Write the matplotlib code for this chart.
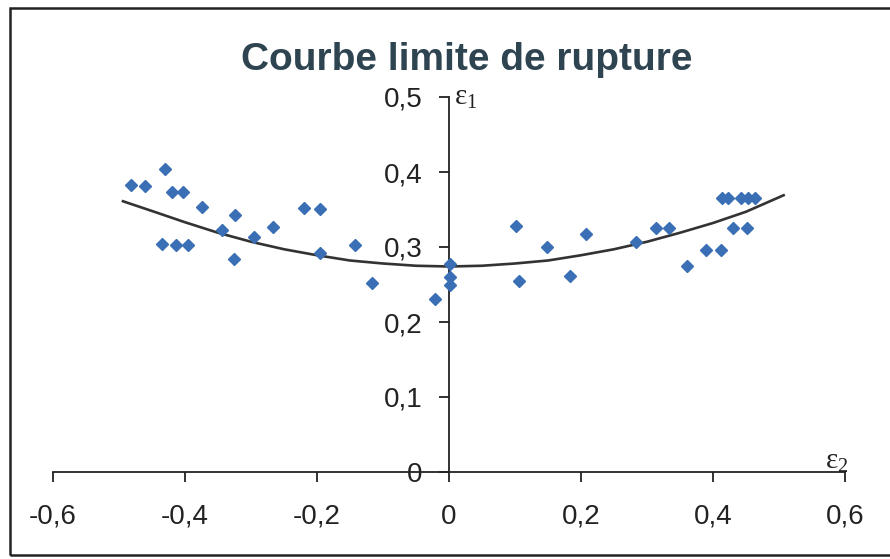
import numpy as np
import matplotlib
matplotlib.use("Agg")
import matplotlib.pyplot as plt
from matplotlib.patches import Rectangle

# measured limit strains (eps2, eps1)
eps2 = [-0.482, -0.461, -0.430, -0.419, -0.403, -0.374, -0.344, -0.324, -0.295,
        -0.267, -0.219, -0.195, -0.435, -0.414, -0.395, -0.326, -0.196, -0.142,
        -0.116, -0.021, 0.002, 0.002, 0.002,
        0.102, 0.106, 0.149, 0.183, 0.207, 0.283, 0.313, 0.334, 0.361, 0.390,
        0.412, 0.431, 0.452, 0.413, 0.423, 0.443, 0.453, 0.464]
eps1 = [0.383, 0.382, 0.404, 0.374, 0.374, 0.354, 0.323, 0.343, 0.313,
        0.327, 0.352, 0.351, 0.304, 0.303, 0.303, 0.284, 0.292, 0.303,
        0.252, 0.231, 0.277, 0.260, 0.249,
        0.328, 0.255, 0.300, 0.261, 0.318, 0.307, 0.326, 0.326, 0.275, 0.296,
        0.296, 0.325, 0.325, 0.366, 0.366, 0.366, 0.366, 0.366]

# forming limit curve (trend line)
curve_x = [-0.494, -0.45, -0.4, -0.35, -0.3, -0.25, -0.2, -0.15, -0.1, -0.05, 0.0,
           0.05, 0.1, 0.15, 0.2, 0.25, 0.3, 0.35, 0.4, 0.45, 0.507]
curve_y = [0.361, 0.348, 0.333, 0.319, 0.307, 0.297, 0.289, 0.282, 0.278, 0.275, 0.274,
           0.275, 0.278, 0.282, 0.289, 0.297, 0.307, 0.319, 0.332, 0.347, 0.369]

xticks = [-0.6, -0.4, -0.2, 0, 0.2, 0.4, 0.6]
yticks = [0, 0.1, 0.2, 0.3, 0.4, 0.5]


def fr(v):
    s = ("%.1f" % v).replace(".", ",")
    return "0" if s in ("0,0", "-0,0") else s


plt.rcParams['font.family'] = ['Liberation Sans', 'DejaVu Sans']
plt.rcParams['mathtext.fontset'] = 'custom'
plt.rcParams['mathtext.rm'] = 'Liberation Serif'

fig = plt.figure(figsize=(8.9, 5.59), dpi=100)
ax = fig.add_axes([53 / 890, 1 - 472 / 559, 792 / 890, 375 / 559])
ax.set_xlim(-0.6, 0.6)
ax.set_ylim(0, 0.5)
ax.patch.set_alpha(0)

ax.plot(curve_x, curve_y, color="#333333", lw=1.9, zorder=2)
ax.plot(eps2, eps1, ls="none", marker="D", ms=6.2, color="#3A6EB5",
        mec="#3A6EB5", zorder=3)

for s in ("top", "right"):
    ax.spines[s].set_visible(False)
ax.spines["left"].set_position(("data", 0))
ax.spines["bottom"].set_position(("data", 0))
for s in ("left", "bottom"):
    ax.spines[s].set_linewidth(1.3)
    ax.spines[s].set_color("#222222")

ax.set_xticks(xticks)
ax.set_xticklabels([fr(v) for v in xticks])
ax.set_yticks(yticks)
ax.set_yticklabels([fr(v) for v in yticks])
ax.tick_params(axis="x", direction="out", length=7, width=1.3, pad=16,
               labelsize=20, colors="#222222")
ax.tick_params(axis="y", direction="out", length=7, width=1.3, pad=12,
               labelsize=20, colors="#222222")

ax.text(0.008, 0.5, r"$\mathrm{ε}_\mathrm{1}$", fontsize=21, color="#222222",
        ha="left", va="center")
ax.text(0.588, -0.004, r"$\mathrm{ε}_\mathrm{2}$", fontsize=21, color="#222222",
        ha="center", va="bottom")

fig.text(467 / 890, 1 - 60 / 559, "Courbe limite de rupture",
         fontsize=28, fontweight="bold", color="#2E4450",
         ha="center", va="center")

# chart frame
fig.patches.append(Rectangle((10 / 890, 1 - 555 / 559), 0.995, 547 / 559,
                             transform=fig.transFigure, fill=False,
                             lw=1.8, ec="#222222"))

fig.savefig("out.png", dpi=100)
